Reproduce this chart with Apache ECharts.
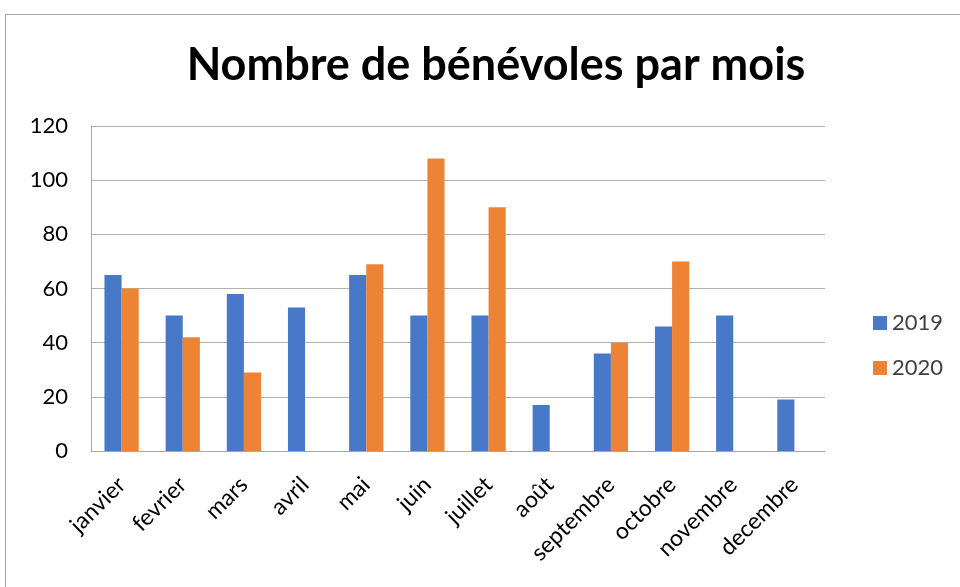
<!DOCTYPE html>
<html>
<head>
<meta charset="utf-8">
<script src="https://cdn.jsdelivr.net/npm/echarts@6/dist/echarts.min.js"></script>
<style>
  html, body { margin: 0; padding: 0; background: #fff; }
  #chart { width: 960px; height: 587px; }
</style>
</head>
<body>
<div id="chart"></div>
<script>
const months = ['janvier', 'fevrier', 'mars', 'avril', 'mai', 'juin', 'juillet', 'août', 'septembre', 'octobre', 'novembre', 'decembre']
const values2019 = [65, 50, 58, 53, 65, 50, 50, 17, 36, 46, 50, 19]
const values2020 = [60, 42, 29, null, 69, 108, 90, null, 40, 70, null, null]
const yTicks = { min: 0, max: 120, interval: 20 }

const font = 'Lato, "Open Sans", sans-serif'
const chart = echarts.init(document.getElementById('chart'))

chart.setOption({
  animation: false,
  title: {
    text: 'Nombre de bénévoles par mois',
    left: 491,
    top: 38,
    textAlign: 'center',
    textStyle: { fontFamily: font, fontSize: 45, fontWeight: 'bold', color: '#000' }
  },
  graphic: [{
    type: 'rect',
    shape: { x: 5.5, y: 14.5, width: 1000, height: 1000 },
    style: { fill: 'none', stroke: '#a6a6a6', lineWidth: 1 },
    silent: true
  }],
  legend: {
    orient: 'vertical',
    left: 868,
    top: 307,
    itemWidth: 14,
    itemHeight: 14,
    itemGap: 23,
    icon: 'rect',
    textStyle: { fontFamily: font, fontSize: 22, color: '#404040' },
    data: ['2019', '2020']
  },
  grid: { left: 91, right: 135, top: 126, bottom: 136 },
  xAxis: {
    type: 'category',
    data: months,
    axisTick: { show: false },
    axisLine: { lineStyle: { color: '#a6a6a6', width: 1 } },
    axisLabel: {
      rotate: 45,
      interval: 0,
      margin: 30,
      fontFamily: font,
      fontSize: 23,
      color: '#000'
    }
  },
  yAxis: {
    type: 'value',
    min: yTicks.min,
    max: yTicks.max,
    interval: yTicks.interval,
    axisLine: { show: true, lineStyle: { color: '#a6a6a6' } },
    axisTick: { show: false },
    splitLine: { lineStyle: { color: '#b0b0b0', width: 1 } },
    axisLabel: { fontFamily: font, fontSize: 22, color: '#000', margin: 23 }
  },
  series: [{
    name: '2019',
    type: 'bar',
    data: values2019,
    barGap: '0%',
    barCategoryGap: '44%',
    itemStyle: { color: '#4878c8' }
  }, {
    name: '2020',
    type: 'bar',
    data: values2020,
    itemStyle: { color: '#ed8335' }
  }]
})
</script>
</body>
</html>
